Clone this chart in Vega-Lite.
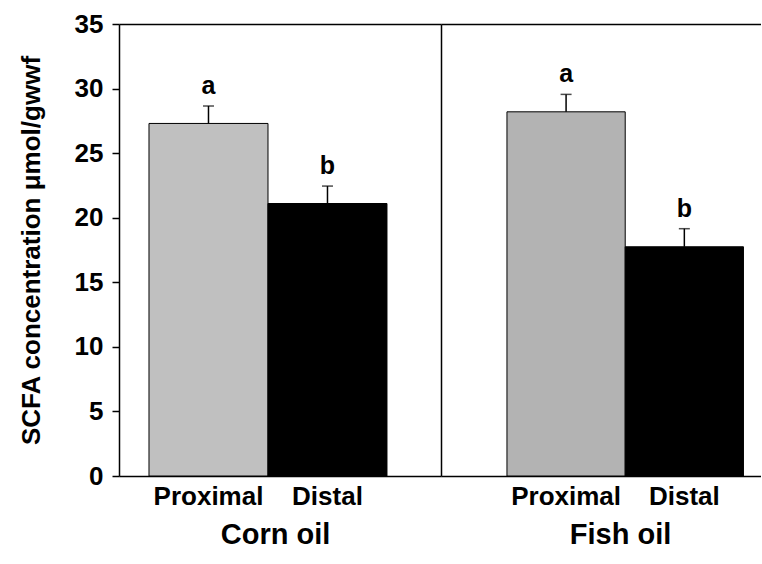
{
  "$schema": "https://vega.github.io/schema/vega-lite/v6.json",
  "padding": {"left": 18, "top": 11, "right": 0, "bottom": 0},
  "spacing": 0,
  "background": "white",
  "config": {
    "view": {"stroke": null},
    "axis": {"grid": false, "domainColor": "black", "domainWidth": 1.5, "tickColor": "black", "tickWidth": 1.5, "labelColor": "black", "titleColor": "black", "labelFont": "Liberation Sans", "titleFont": "Liberation Sans", "labelFontWeight": "bold", "titleFontWeight": "bold"},
    "text": {"font": "Liberation Sans"}
  },
  "datasets": {
    "scfa": [
      {"diet": "Corn oil", "site": "Proximal", "mean": 27.3, "upper": 28.65, "letter": "a"},
      {"diet": "Corn oil", "site": "Distal", "mean": 21.1, "upper": 22.45, "letter": "b"},
      {"diet": "Fish oil", "site": "Proximal", "mean": 28.2, "upper": 29.55, "letter": "a"},
      {"diet": "Fish oil", "site": "Distal", "mean": 17.75, "upper": 19.15, "letter": "b"}
    ]
  },
  "data": {"name": "scfa"},
  "resolve": {"scale": {"x": "independent", "color": "independent"}},
  "hconcat": [
    {
      "width": 322,
      "height": 452,
      "transform": [{"filter": "datum.diet === 'Corn oil'"}],
      "resolve": {"axis": {"x": "independent", "y": "independent"}},
      "layer": [
        {
          "mark": {"type": "bar", "stroke": "black", "strokeWidth": 1},
          "encoding": {
            "x": {"field": "site", "type": "nominal", "sort": ["Proximal", "Distal"],
              "scale": {"paddingInner": 0, "paddingOuter": 0.353, "align": 0.357},
              "axis": {"orient": "bottom", "title": "Corn oil", "labelAngle": 0, "ticks": false, "labelFontSize": 26, "labelPadding": 7, "titleFontSize": 29, "titlePadding": 11, "titleX": 156}},
            "y": {"field": "mean", "type": "quantitative", "scale": {"domain": [0, 35], "nice": false},
              "axis": {"title": "SCFA concentration μmol/gwwf", "values": [0, 5, 10, 15, 20, 25, 30, 35], "tickSize": 7, "labelPadding": 9, "labelFontSize": 26, "titleFontSize": 26, "titlePadding": 30}},
            "color": {"field": "site", "type": "nominal", "scale": {"domain": ["Proximal", "Distal"], "range": ["#c0c0c0", "#000000"]}, "legend": null}
          }
        },
        {
          "mark": {"type": "rule", "color": "black", "strokeWidth": 1.5},
          "encoding": {
            "x": {"field": "site", "type": "nominal", "sort": ["Proximal", "Distal"], "axis": null},
            "y": {"field": "mean", "type": "quantitative", "axis": null},
            "y2": {"field": "upper"}
          }
        },
        {
          "mark": {"type": "tick", "color": "black", "thickness": 1.5, "size": 11},
          "encoding": {
            "x": {"field": "site", "type": "nominal", "sort": ["Proximal", "Distal"],
              "axis": {"orient": "top", "labels": false, "ticks": false, "title": null, "domain": true}},
            "y": {"field": "upper", "type": "quantitative", "axis": null}
          }
        },
        {
          "mark": {"type": "text", "baseline": "bottom", "dy": -7, "fontSize": 25, "fontWeight": "bold", "color": "black"},
          "encoding": {
            "x": {"field": "site", "type": "nominal", "sort": ["Proximal", "Distal"], "axis": null},
            "y": {"field": "upper", "type": "quantitative", "axis": null},
            "text": {"field": "letter"}
          }
        }
      ]
    },
    {
      "width": 320,
      "height": 452,
      "transform": [{"filter": "datum.diet === 'Fish oil'"}],
      "resolve": {"axis": {"x": "independent", "y": "independent"}},
      "layer": [
        {
          "mark": {"type": "bar", "stroke": "black", "strokeWidth": 1},
          "encoding": {
            "x": {"field": "site", "type": "nominal", "sort": ["Proximal", "Distal"],
              "scale": {"paddingInner": 0, "paddingOuter": 0.353, "align": 0.79},
              "axis": {"orient": "bottom", "title": "Fish oil", "labelAngle": 0, "ticks": false, "labelFontSize": 26, "labelPadding": 7, "titleFontSize": 29, "titlePadding": 11, "titleX": 179}},
            "y": {"field": "mean", "type": "quantitative", "scale": {"domain": [0, 35], "nice": false},
              "axis": {"title": null, "labels": false, "ticks": false, "domain": true}},
            "color": {"field": "site", "type": "nominal", "scale": {"domain": ["Proximal", "Distal"], "range": ["#b3b3b3", "#000000"]}, "legend": null}
          }
        },
        {
          "mark": {"type": "rule", "color": "black", "strokeWidth": 1.5},
          "encoding": {
            "x": {"field": "site", "type": "nominal", "sort": ["Proximal", "Distal"], "axis": null},
            "y": {"field": "mean", "type": "quantitative", "axis": null},
            "y2": {"field": "upper"}
          }
        },
        {
          "mark": {"type": "tick", "color": "black", "thickness": 1.5, "size": 11},
          "encoding": {
            "x": {"field": "site", "type": "nominal", "sort": ["Proximal", "Distal"],
              "axis": {"orient": "top", "labels": false, "ticks": false, "title": null, "domain": true}},
            "y": {"field": "upper", "type": "quantitative", "axis": null}
          }
        },
        {
          "mark": {"type": "text", "baseline": "bottom", "dy": -7, "fontSize": 25, "fontWeight": "bold", "color": "black"},
          "encoding": {
            "x": {"field": "site", "type": "nominal", "sort": ["Proximal", "Distal"], "axis": null},
            "y": {"field": "upper", "type": "quantitative", "axis": null},
            "text": {"field": "letter"}
          }
        }
      ]
    }
  ]
}
